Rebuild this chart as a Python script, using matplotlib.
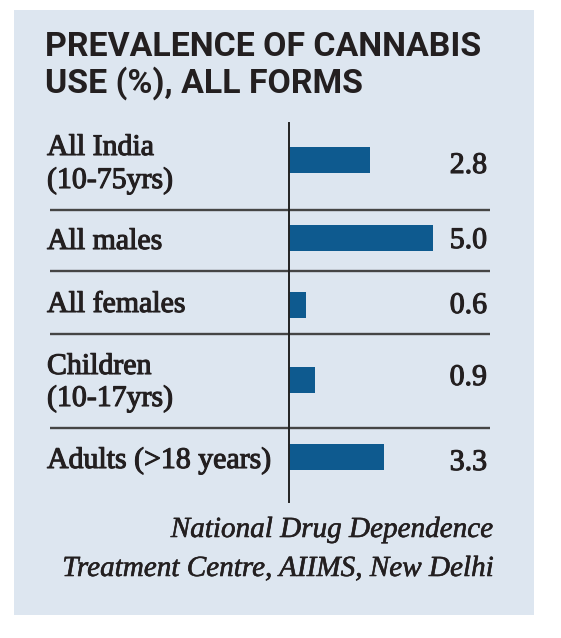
import matplotlib
matplotlib.use("Agg")
import matplotlib.pyplot as plt
from matplotlib.patches import Rectangle
import matplotlib.patheffects as pe

# ---- data ----
categories = ["All India\n(10-75yrs)", "All males", "All females",
              "Children\n(10-17yrs)", "Adults (>18 years)"]
values = [2.8, 5.0, 0.6, 0.9, 3.3]
value_labels = ["2.8", "5.0", "0.6", "0.9", "3.3"]
title_lines = ["PREVALENCE OF CANNABIS", "USE (%), ALL FORMS"]
source_lines = ["National Drug Dependence", "Treatment Centre, AIIMS, New Delhi"]

# ---- layout (pixels) ----
W, H = 561, 638
zero_px = 289
px_per_unit = 28.8
row_centers = [160, 237.5, 305, 379.5, 456.5]
label_baselines = [(155, 188), (249,), (312,), (374, 406), (468,)]
value_baselines = [173, 248, 313, 385, 470]
separators = [209.5, 271, 334, 428]
bar_h = 26

BG = "#dde6f0"
INK = "#231f20"
BAR = "#0e5a8f"

fig = plt.figure(figsize=(W / 100, H / 100), dpi=100)
fig.patch.set_facecolor("white")

# panel background
fig.patches.append(Rectangle((14 / W, 1 - 615 / H), (534 - 14) / W, (615 - 10) / H,
                             transform=fig.transFigure, facecolor=BG, edgecolor="none",
                             zorder=-5))

ax = fig.add_axes([0, 0, 1, 1])
ax.set_facecolor("none")
ax.set_zorder(1)
ax.set_xlim(-zero_px / px_per_unit, (W - zero_px) / px_per_unit)
ax.set_ylim(H, 0)
ax.axis("off")

def dx(px):
    return (px - zero_px) / px_per_unit

ax.barh(row_centers, values, height=bar_h, color=BAR, zorder=3)

# separators
for y in separators:
    ax.plot([dx(50), dx(490)], [y, y], color="#454545", lw=1.7, zorder=2,
            solid_capstyle="butt")
# vertical axis line
ax.plot([0, 0], [123, 502], color="#222222", lw=1.4, zorder=4)

def fy(y):
    return 1 - y / H

stroke = [pe.withStroke(linewidth=0.8, foreground=INK)]
stroke_light = [pe.withStroke(linewidth=0.4, foreground=INK)]

# title
for line, base in zip(title_lines, [56, 93]):
    fig.text(45 / W, fy(base), line, fontsize=24.4, fontweight="bold",
             family="Roboto", color=INK, va="baseline", ha="left", zorder=5)

# category labels
for cat, bases in zip(categories, label_baselines):
    for line, base in zip(cat.split("\n"), bases):
        fig.text(47 / W, fy(base), line, fontsize=21.5, family="Liberation Serif",
                 color=INK, va="baseline", ha="left", path_effects=stroke, zorder=5)

# value labels
for lab, base in zip(value_labels, value_baselines):
    fig.text(487 / W, fy(base), lab, fontsize=21.5, family="Liberation Serif",
             color=INK, va="baseline", ha="right", path_effects=stroke, zorder=5)

# source
for line, base in zip(source_lines, [537, 576]):
    fig.text(493 / W, fy(base), line, fontsize=21, family="Liberation Serif",
             style="italic", color=INK, va="baseline", ha="right",
             path_effects=stroke_light, zorder=5)

fig.savefig("out.png", dpi=100, facecolor="white")
